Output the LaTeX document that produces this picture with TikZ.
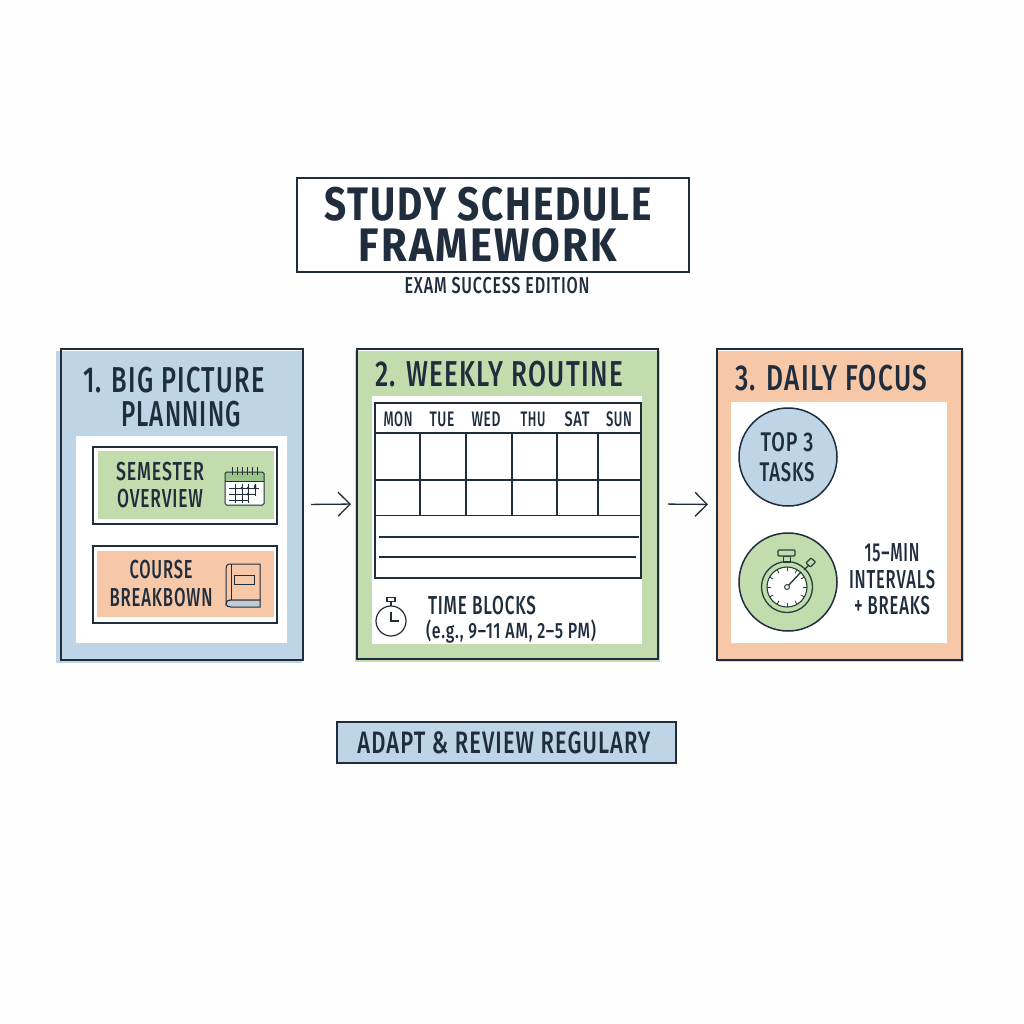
\documentclass[tikz,border=0pt]{standalone}
\usepackage{fontspec}
\usepackage{graphicx}
\setmainfont{Fira Sans}[LetterSpace=5]
\newfontfamily\medf{Fira Sans Medium}[LetterSpace=5]
\usetikzlibrary{arrows.meta}
\definecolor{ink}{HTML}{1F2D3D}
\definecolor{bluef}{HTML}{BDD5E7}
\definecolor{greenf}{HTML}{C3DCAE}
\definecolor{greend}{HTML}{9CC58A}
\definecolor{orangef}{HTML}{F6C8A8}
\definecolor{paper}{HTML}{FEFEFE}
\definecolor{watchink}{HTML}{24403A}
\newcommand{\tw}[2]{\resizebox{#1pt}{\height}{#2}}
\newcommand{\fsz}[2]{\fontsize{#1}{#2}\selectfont}
\tikzset{
  frame/.style={draw=ink,line width=1.5pt,minimum width=#1,inner sep=0pt,outer sep=0pt},
  txt/.style={text=ink,inner sep=0pt,align=center,font=\medf},
  thin line/.style={draw=ink,line width=1.3pt},
  flowarrow/.style={draw=ink,line width=1.3pt,-{Straight Barb[length=12pt,width=24pt,line width=1.3pt]}},
  icon/.style={draw=ink,line width=1pt},
}
\begin{document}
\begin{tikzpicture}[x=1pt,y=-1pt]
\useasboundingbox (0,0) rectangle (1024,1024);
\fill[paper] (0,0) rectangle (1024,1024);

% title
\node[frame=392pt,minimum height=94pt,fill=white] (titlebox) at (493,225) {};
\node[txt,font=\bfseries\fsz{47}{41}] (title) at (488,224.5) {\tw{327}{STUDY SCHEDULE}\\\tw{258}{FRAMEWORK}};
\node[txt,font=\medf\fsz{23}{26}] (subtitle) at (497,286) {\tw{185}{EXAM SUCCESS EDITION}};

% panel fills
\fill[bluef] (56,351) rectangle (302,663);
\fill[greenf] (355,351) rectangle (660,662);
\fill[orangef] (718,351) rectangle (964,662);
\fill[white] (76,436) rectangle (287,643);
\fill[white] (372,396) rectangle (642,644);
\fill[white] (731,402) rectangle (947,643);

% panel frames
\node[frame=242pt,minimum height=311pt] (p1) at (182,504.5) {};
\node[frame=301pt,minimum height=310pt] (p2) at (507.5,504) {};
\node[frame=245pt,minimum height=311pt] (p3) at (839.5,504.5) {};

% arrows
\draw[flowarrow,shorten <=8pt,shorten >=6pt] (p1.east) -- (p2.west);
\draw[flowarrow,shorten <=10pt,shorten >=9pt] (p2.east) -- (p3.west);

% panel 1
\node[txt,font=\medf\fsz{36}{34}] (h1) at (174,397) {\tw{182}{1. BIG PICTURE}\\\hspace*{14pt}\tw{120}{PLANNING}};
\node[frame=184pt,minimum height=77pt,fill=white] (sem) at (185,485.5) {};
\fill[greenf] (98,451) rectangle (274,519);
\node[frame=184pt,minimum height=77pt,fill=none] (crs) at (185,584.5) {};
\fill[orangef] (97,551) rectangle (274,617);
\node[txt,font=\medf\fsz{26}{27}] (semt) at (160,485) {\tw{88}{SEMESTER}\\\tw{86}{OVERVIEW}};
\node[txt,font=\medf\fsz{26}{28}] (crst) at (161,583.5) {\tw{63}{COURSE}\\\tw{103}{BREAKBOWN}};

% calendar icon
\fill[white] (225,472) rectangle (264,505);
\fill[greend] (225,472) rectangle (264,481);
\draw[icon,rounded corners=1.5pt] (225,472) rectangle (264,505);
\draw[icon] (225,481) -- (264,481);
\foreach \x in {232,237,242,247,252,257} \draw[icon,line width=1pt] (\x,467) -- (\x,475);
\draw[ink,line width=.9pt] (229,488) -- (259,488) (229,494) -- (255,494) (229,500) -- (248,500);
\foreach \x in {235,242,248,255} \draw[ink,line width=.9pt] (\x,484) -- (\x,496);
\foreach \x in {235,242,248} \draw[ink,line width=.9pt] (\x,496) -- (\x,503);
\foreach \x/\y in {242/488,248/488,255/488,248/494,255/486} \fill[ink] (\x,\y) circle (1.5pt);

% book icon
\draw[icon,fill=orangef] (229,564) -- (260,564) -- (260,600) -- (231,600) .. controls (227,600) and (226,603) .. (226,604) -- (226,569) .. controls (226,566) and (227,564) .. (229,564) -- cycle;
\draw[icon,fill=bluef!60!gray!70] (226,604) .. controls (226,601) and (228,600) .. (231,600) -- (260,600) -- (260,607) -- (231,607) .. controls (228,607) and (226,606) .. (226,604) -- cycle;
\draw[icon] (231,564) -- (231,600);
\draw[icon] (234,575) rectangle (254,584);

% panel 2
\node[txt,font=\medf\fsz{36}{36}] (h2) at (499,374) {\tw{248}{2. WEEKLY ROUTINE}};
\node[frame=266pt,minimum height=175pt] (tbl) at (508,490.5) {};
\draw[thin line] (375,433) -- (641,433) (375,480) -- (641,480) (375,515.5) -- (641,515.5);
\foreach \x in {420,466,512,557,598} \draw[thin line] (\x,433) -- (\x,515.5);
\draw[thin line] (379,537) -- (639,537) (379,557) -- (636,557);
\foreach \nm/\lab/\cx/\w in {mon/MON/398/29,tue/TUE/442/25,wed/WED/486/29,thu/THU/533/25,sat/SAT/577/25,sun/SUN/619/26}
  \node[txt,font=\medf\fsz{21}{21}] (\nm) at (\cx,419) {\tw{\w}{\lab}};
% small watch
\draw[icon,line width=1.2pt] (391,621) circle (15pt);
\draw[icon,line width=1.2pt] (391,606) -- (391,602);
\draw[icon,line width=1.2pt] (387,597.5) rectangle (395,601.5);
\draw[icon,line width=1.2pt] (391,612) -- (391,621) -- (399,621);
\node[txt,font=\medf\fsz{26}{26}] (tb) at (482,606) {\tw{108}{TIME BLOCKS}};
\node[txt,font=\medf\fsz{22}{22}] (tbe) at (511,632) {\tw{170}{(e.g., 9–11 AM, 2–5 PM)}};

% panel 3
\node[txt,font=\medf\fsz{36}{36}] (h3) at (831,378) {\tw{192}{3. DAILY FOCUS}};
\node[circle,draw=ink,line width=1.5pt,fill=bluef,minimum size=98pt,inner sep=0pt] (c1) at (788,457) {};
\node[txt,font=\medf\fsz{27}{29.5}] (c1t) at (787,457) {\tw{53}{TOP 3}\\\tw{55}{TASKS}};
\node[circle,draw=ink,line width=1.5pt,fill=greenf,minimum size=98pt,inner sep=0pt] (c2) at (788,582) {};
% big watch
\draw[watchink,line width=1.3pt,fill=greenf] (787,587) circle (25.5pt);
\draw[watchink,line width=1.1pt,fill=white] (787,587) circle (20pt);
\draw[watchink,line width=1.2pt,fill=greenf] (783.5,556) rectangle (790.5,562);
\draw[watchink,line width=1.2pt,fill=greenf,rounded corners=1pt] (778,550) rectangle (795,556);
\draw[watchink,line width=1.2pt] (804,570) -- (809,565);
\draw[watchink,line width=1.2pt,fill=greenf,rounded corners=.8pt] (806,563) -- (811,558) -- (815.5,562) -- (810.5,567) -- cycle;
\foreach \a in {0,30,...,330} \draw[watchink,line width=.8pt] (787,587) ++(\a:16pt) -- ++(\a:4pt);
\draw[watchink,line width=1.4pt] (787,587) -- (801,572);
\draw[watchink,line width=1pt,fill=white] (787,587) circle (2.4pt);
\node[txt,font=\medf\fsz{26}{26.5}] (c2t) at (892,579.5) {\tw{55}{15–MIN}\\\tw{86}{INTERVALS}\\\tw{76}{+ BREAKS}};

% footer
\node[frame=339pt,minimum height=41pt,fill=bluef] (foot) at (506.5,742.5) {};
\node[txt,font=\medf\fsz{31}{31}] (foott) at (504,743) {\tw{293}{ADAPT \& REVIEW REGULARY}};
\end{tikzpicture}
\end{document}
